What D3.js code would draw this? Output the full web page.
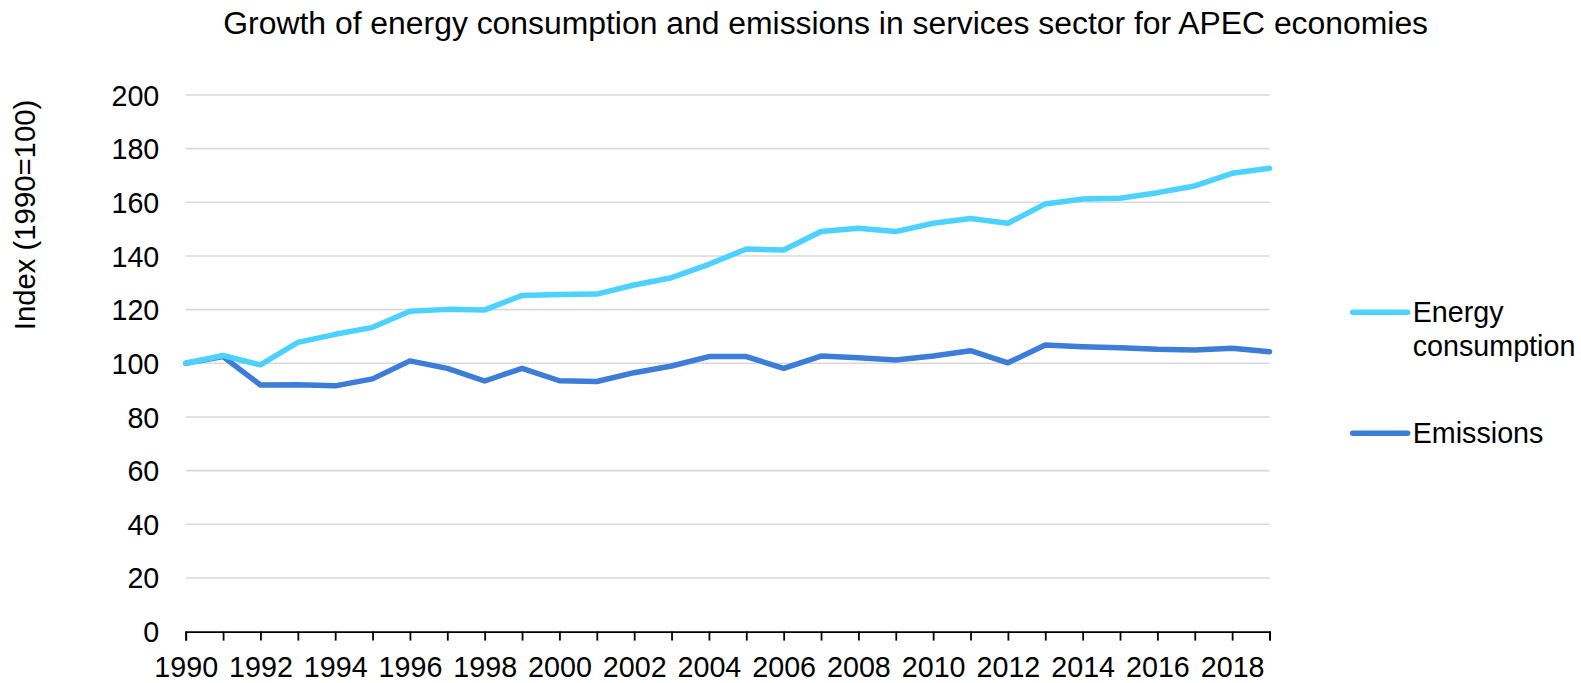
<!DOCTYPE html>
<html>
<head>
<meta charset="utf-8">
<script src="https://cdn.jsdelivr.net/npm/d3@7"></script>
<style>
  html, body { margin: 0; padding: 0; background: #ffffff; }
  svg { display: block; font-family: "Liberation Sans", Arial, sans-serif; }
</style>
</head>
<body>
<svg id="chart" width="1581" height="683"></svg>
<script>
// Index values, 1990 = 100
const years = [1990, 1991, 1992, 1993, 1994, 1995, 1996, 1997, 1998, 1999,
               2000, 2001, 2002, 2003, 2004, 2005, 2006, 2007, 2008, 2009,
               2010, 2011, 2012, 2013, 2014, 2015, 2016, 2017, 2018, 2019];

const energyConsumption = [100.0, 102.9, 99.4, 107.8, 110.8, 113.4, 119.4, 120.1, 119.9, 125.3,
                           125.6, 125.8, 129.2, 131.9, 136.9, 142.6, 142.2, 149.1, 150.3, 149.1,
                           152.2, 154.0, 152.2, 159.4, 161.2, 161.5, 163.6, 166.1, 170.8, 172.7];

const emissions = [100.0, 102.5, 91.9, 92.0, 91.6, 94.2, 100.9, 98.1, 93.4, 98.1,
                   93.5, 93.2, 96.5, 99.0, 102.5, 102.5, 98.1, 102.7, 102.1, 101.2,
                   102.7, 104.7, 100.2, 106.8, 106.2, 105.8, 105.2, 105.0, 105.6, 104.3];

const yTicks = [0, 20, 40, 60, 80, 100, 120, 140, 160, 180, 200];
const seriesNames = ["Energy consumption", "Emissions"];
const seriesColors = ["#4dd2ff", "#3c7dd8"];

const titleText = "Growth of energy consumption and emissions in services sector for APEC economies";
const yTitleText = "Index (1990=100)";

const svg = d3.select("#chart");
const fontSize = 28.7;

const x = d3.scaleLinear().domain([1990, 2019]).range([185.7, 1269.5]);
const y = d3.scaleLinear().domain([0, 200]).range([631.6, 95]);

// Title, sized to span its full width
const title = svg.append("text")
  .attr("x", 825.7).attr("y", 34.3)
  .attr("text-anchor", "middle")
  .style("font-size", "30px")
  .attr("fill", "#000")
  .text(titleText);
const titleWidth = title.node().getComputedTextLength();
title.style("font-size", (30 * 1205 / titleWidth) + "px");

// Horizontal gridlines
svg.append("g").selectAll("line")
  .data(yTicks.filter(d => d > 0))
  .join("line")
  .attr("x1", x.range()[0]).attr("x2", x.range()[1])
  .attr("y1", d => y(d)).attr("y2", d => y(d))
  .attr("stroke", "#d9d9d9").attr("stroke-width", 1.6);

// Y axis labels
const yAxis = svg.append("g")
  .attr("transform", `translate(${x.range()[0]},0)`)
  .call(d3.axisLeft(y).tickValues(yTicks).tickSize(0).tickPadding(26.4));
yAxis.select(".domain").remove();
yAxis.selectAll("text")
  .style("font-size", fontSize + "px")
  .style("font-family", "'Liberation Sans', Arial, sans-serif")
  .attr("fill", "#000")
  .attr("dy", "0.35em");

// Y axis title
svg.append("text")
  .attr("transform", `translate(35,215) rotate(-90)`)
  .attr("text-anchor", "middle")
  .style("font-size", "29.3px")
  .attr("fill", "#000")
  .text(yTitleText);

// X axis
const xAxis = svg.append("g")
  .attr("transform", `translate(0,${y(0)})`)
  .call(d3.axisBottom(x)
    .tickValues(years)
    .tickSize(9)
    .tickFormat(d => d % 2 === 0 ? String(d) : ""));
xAxis.select(".domain").attr("stroke", "#000").attr("stroke-width", 1.8);
xAxis.selectAll(".tick line").attr("stroke", "#000").attr("stroke-width", 1.8);
xAxis.selectAll("text")
  .style("font-size", fontSize + "px")
  .style("font-family", "'Liberation Sans', Arial, sans-serif")
  .attr("fill", "#000")
  .attr("y", 677.5 - y(0))
  .attr("dy", "0");

// Series lines
const line = d3.line()
  .x((d, i) => x(years[i]))
  .y(d => y(d));

const seriesData = [energyConsumption, emissions];

svg.append("g").selectAll("path")
  .data([1, 0])
  .join("path")
  .attr("d", k => line(seriesData[k]))
  .attr("fill", "none")
  .attr("stroke", k => seriesColors[k])
  .attr("stroke-width", 5.5)
  .attr("stroke-linejoin", "round")
  .attr("stroke-linecap", "round");

// Legend
const legendItems = [
  { lines: ["Energy", "consumption"], lineY: 312.3, textY: 321.7 },
  { lines: ["Emissions"], lineY: 433.3, textY: 443.3 }
];
const legend = svg.append("g");
legendItems.forEach((item, i) => {
  legend.append("line")
    .attr("x1", 1352.7).attr("x2", 1407.7)
    .attr("y1", item.lineY).attr("y2", item.lineY)
    .attr("stroke", seriesColors[i])
    .attr("stroke-width", 5.5)
    .attr("stroke-linecap", "round");
  const t = legend.append("text")
    .attr("x", 1412.7).attr("y", item.textY)
    .style("font-size", fontSize + "px")
    .attr("fill", "#000");
  item.lines.forEach((s, j) => {
    t.append("tspan")
      .attr("x", 1412.7)
      .attr("dy", j === 0 ? 0 : 34.3)
      .text(s);
  });
});
</script>
</body>
</html>
